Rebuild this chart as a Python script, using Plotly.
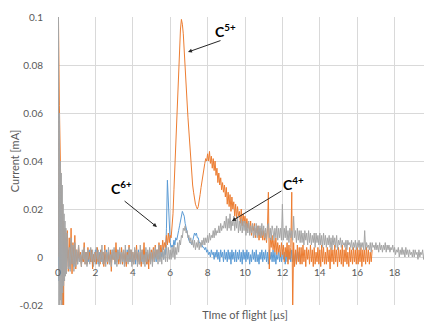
import plotly.graph_objects as go

# Sample times (µs): fine sampling near t=0, then 0.05 µs steps
t_fine = [0, 0.025, 0.05, 0.075, 0.1, 0.125, 0.15, 0.175, 0.2, 0.225,
          0.25, 0.275, 0.3, 0.325, 0.35, 0.375, 0.4, 0.425, 0.45, 0.475]
t_main = [round(0.5 + 0.05 * k, 2) for k in range(391)]  # 0.5 .. 20.0

# Currents, in µA (0.001 mA); one row per µs
gray_fine_uA = [0, 100, -20, 60, -20, 40, -18, 35, -20, 30, -15, 22, -12, 18, -10, 15, -8, 12, -7, 10]
gray_main_uA = [
    7, -5, 4, -6, 8, -3, 5, -6, 6, -4,
    3, -3, 5, -2, 1, -4, 3, -1, 4, -3, 2, -4, 3, 0, -3, 4, -2, 3, -4, 2,
    -3, 4, -1, 3, -4, 2, -2, 5, -3, 1, 3, -4, 2, -2, 4, -3, 1, -4, 3, -1,
    4, -3, 2, -4, 3, -1, 4, -3, 2, -2, 3, -4, 5, -2, 1, -3, 4, -2, 3, -4,
    2, -3, 4, -1, 3, -4, 2, -3, 5, -2, 3, -3, 1, -4, 4, -2, 3, -1, 4, -3,
    2, -4, 3, -2, 4, -1, 3, -3, 5, -2, 2, -3, 4, -1, 3, -2, 5, -2, 4, -1,
    3, -1, 4, 0, 5, -1, 4, 1, 6, 2, 7, 5, 9, 8, 12, 11, 13, 10, 11, 8,
    9, 6, 8, 5, 7, 4, 7, 3, 6, 4, 7, 3, 6, 4, 7, 5, 8, 5, 8, 6,
    9, 6, 10, 7, 9, 8, 11, 8, 12, 9, 11, 10, 13, 10, 14, 11, 13, 12, 15, 12,
    17, 11, 16, 12, 18, 11, 15, 13, 17, 11, 16, 12, 17, 10, 15, 11, 16, 10, 15, 11,
    15, 9, 14, 10, 15, 9, 13, 10, 14, 8, 13, 9, 14, 8, 13, 9, 13, 8, 14, 9,
    13, 8, 12, 7, 13, 14, 8, 12, 7, 13, 11, 7, 12, 8, 13, 7, 12, 8, 12, 7,
    22, 7, 12, 8, 13, 7, 11, 6, 12, 8, 11, 7, 17, 8, 11, 6, 12, 7, 11, 6,
    11, 6, 10, 5, 11, 7, 10, 5, 11, 6, 10, 5, 9, 6, 10, 4, 10, 6, 9, 5,
    10, 5, 9, 4, 10, 5, 9, 4, 8, 5, 9, 4, 8, 3, 9, 5, 8, 4, 9, 3,
    7, 5, 8, 4, 7, 5, 6, 4, 7, 3, 7, 5, 6, 4, 7, 3, 6, 4, 7, 3,
    6, 4, 7, 3, 6, 4, 6, 3, 11, 3, 6, 4, 5, 3, 6, 2, 6, 4, 5, 3,
    6, 3, 5, 2, 6, 3, 5, 2, 5, 3, 6, 2, 5, 3, 5, 2, 4, 3, 5, 2,
    4, 1, 3, 2, 4, 0, 3, 1, 4, 1, 3, 0, 4, 1, 3, 0, 3, 1, 2, 0,
    3, 0, 3, 1, 2, -1, 3, 0, 2, 1, 3, -1, 2, 0, 3, 0, 2, -1, 2, 0,
    2,
]

orange_fine_uA = [0, 100, 80, 63, 45, 40, 30, 28, 20, 22, -20, 15, -20, 10, 8, 12, -5, 8, -6, 9]
orange_main_uA = [
    11, -6, 8, -4, 12, -7, 6, -3, 9, -5,
    3, -2, 5, -1, 2, -4, 1, -2, 6, -3, 2, -3, 4, -1, 2, -2, 3, -5, 1, -2,
    2, -3, 4, -2, 1, -3, 3, -1, 2, -4, 5, -2, 2, -3, 1, -2, 3, -6, 2, -1,
    3, -2, 6, -1, 2, -3, 1, -2, 4, -3, 2, -1, 3, -4, 2, -2, 5, -1, 3, -2,
    2, -3, 3, -1, 5, -2, 1, -3, 2, -4, 3, -1, 6, -2, 2, -3, 1, -5, 3, -2,
    3, -1, 4, -2, 5, 0, 3, -1, 6, 1, 5, 2, 7, 3, 6, 4, 9, 5, 10, 6,
    9, 8, 13, 18, 28, 38, 50, 62, 73, 83, 90, 95, 99, 97, 93, 87, 80, 72, 65, 58,
    52, 46, 40, 35, 30, 27, 24, 22, 21, 20, 21, 23, 26, 29, 32, 35, 37, 39, 41, 40,
    43, 40, 44, 39, 42, 37, 41, 36, 40, 34, 37, 31, 35, 30, 33, 28, 31, 27, 30, 25,
    29, 22, 27, 21, 26, 19, 25, 20, 23, 17, 22, 16, 21, 17, 19, 14, 20, 13, 18, 14,
    17, 11, 16, 12, 14, 10, 15, 9, 13, 11, 14, 8, 12, 10, 13, 7, 12, 8, 11, 7,
    11, 7, 10, 6, 12, 27, -5, 8, 4, 9, 3, 7, 2, 8, 1, 6, 2, 5, 0, 6,
    1, 5, -2, 4, 0, 6, -3, 5, -1, 4, 27, -24, 6, -4, 3, -3, 5, -2, 4, -3,
    4, -3, 5, -2, 3, -4, 4, -1, 3, -3, 5, -2, 3, -4, 4, -3, 2, -2, 4, -3,
    3, -4, 5, -2, 4, -3, 2, -3, 4, -2, 3, -5, 4, -2, 3, -3, 5, -2, 3, -4,
    4, -2, 3, -3, 5, -4, 3, -2, 4, -3, 2, -4, 4, -2, 3, -3, 4, -2, 3, -3,
    4, -3, 3, -2, 4, -4, 3, -2, 3, -3, 4, -2, 3, -3, 2, -2, 3,
]

blue_fine_uA = [0, 30, -10, 25, -8, 22, -6, 18, -5, 15, -4, 12, -4, 10, -3, 8, -3, 6, -3, 5]
blue_main_uA = [
    5, -4, 3, -5, 6, -3, 4, -4, 3, -2,
    2, -3, 3, -2, 1, -3, 2, -2, 3, -1, 2, -3, 1, -2, 3, -2, 2, -3, 1, -2,
    3, -2, 1, -3, 2, -1, 3, -2, 2, -3, 1, -2, 3, -1, 2, -3, 2, -2, 3, -1,
    2, -3, 1, -2, 3, -2, 2, -1, 3, -3, 2, -2, 1, -3, 3, -1, 2, -2, 3, -2,
    1, -2, 3, -3, 2, -1, 3, -2, 1, -3, 2, -2, 3, -1, 2, -3, 1, -2, 3, -1,
    2, -2, 3, -1, 2, -2, 3, 0, 2, -1, 3, 0, 2, -1, 3, 1, 12, 32, 22, 9,
    6, 4, 5, 4, 7, 5, 8, 7, 10, 11, 13, 15, 17, 19, 18, 17, 14, 12, 10, 8,
    7, 6, 6, 5, 7, 8, 10, 9, 10, 8, 8, 6, 6, 5, 5, 4, 4, 3, 4, 2,
    3, 1, 2, 0, 3, 1, 2, -1, 2, 0, 3, -1, 2, -2, 3, 0, 2, -2, 3, -1,
    2, -2, 3, -1, 2, -3, 3, -1, 2, -2, 3, -2, 2, -1, 3, -2, 2, -3, 3, -1,
    2, -2, 3, -1, 2, -3, 1, -2, 3, -1, 2, -2, 3, -2, 1, -3, 2, -1, 3, -2,
    2, -1, 3, -2, 2, -3, 3, -1, 2, -2, 3, -2, 2, -3, 1, -1, 3, -2, 2, -2,
    3, -1, 2, -3, 2, -2, 3, -1, 2, -2, 3, -2, 1, -2, 2, -3, 3, -1, 2, -2,
    1,
]

x_ticks = [0, 2, 4, 6, 8, 10, 12, 14, 16, 18, 20]
y_ticks = [-0.02, 0, 0.02, 0.04, 0.06, 0.08, 0.1]
y_tick_labels = ["-0.02", "0", "0.02", "0.04", "0.06", "0.08", "0.1"]

UA_TO_MA = 1e-3


def series(t_a, t_b, v_a, v_b):
    vals = v_a + v_b
    t = (t_a + t_b)[:len(vals)]
    return t, [v * UA_TO_MA for v in vals]


bx, by = series(t_fine, t_main, blue_fine_uA, blue_main_uA)
ox, oy = series(t_fine, t_main, orange_fine_uA, orange_main_uA)
gx, gy = series(t_fine, t_main, gray_fine_uA, gray_main_uA)

fig = go.Figure()
fig.add_trace(go.Scatter(x=bx, y=by, mode="lines", name="Blue",
                         line=dict(color="#5B9BD5", width=1)))
fig.add_trace(go.Scatter(x=ox, y=oy, mode="lines", name="Orange",
                         line=dict(color="#ED7D31", width=1)))
fig.add_trace(go.Scatter(x=gx, y=gy, mode="lines", name="Gray",
                         line=dict(color="#A5A5A5", width=1)))

tick_font = dict(family="Lato, Arial, sans-serif", size=10, color="#595959")
title_font = dict(family="Lato, Arial, sans-serif", size=11, color="#595959")

fig.update_layout(
    width=432, height=321,
    margin=dict(l=50, r=8, t=9, b=24, pad=0),
    paper_bgcolor="white", plot_bgcolor="white",
    showlegend=False,
    font=tick_font,
    xaxis=dict(
        range=[0, 20], tickvals=x_ticks, ticktext=[str(v) for v in x_ticks],
        anchor="free", position=1 / 6, automargin=False,
        showgrid=True, gridcolor="#D9D9D9", gridwidth=1,
        zeroline=False, showline=False,
        ticks="outside", ticklen=6, tickcolor="rgba(0,0,0,0)",
        tickfont=tick_font,
        title=dict(text="TIme of flight [µs]", standoff=34, font=title_font),
    ),
    yaxis=dict(
        range=[-0.02, 0.1], tickvals=y_ticks, ticktext=y_tick_labels,
        automargin=False,
        showgrid=True, gridcolor="#D9D9D9", gridwidth=1,
        zeroline=False, showline=False,
        ticks="outside", ticklen=12, tickcolor="rgba(0,0,0,0)",
        tickfont=tick_font,
        title=dict(text="Current [mA]", standoff=0, font=title_font),
    ),
)

ann_font = dict(family="Lato, Arial, sans-serif", size=14, color="#000000")
labels = [
    ("<b>C<sup>5+</sup></b>", 8.98, 0.0942),
    ("<b>C<sup>6+</sup></b>", 3.37, 0.0288),
    ("<b>C<sup>4+</sup></b>", 12.57, 0.0308),
]
for txt, lx, ly in labels:
    fig.add_annotation(x=lx, y=ly, xref="x", yref="y", text=txt, showarrow=False,
                       font=ann_font)

arrows = [
    (6.95, 0.0854, 8.77, 0.0904),
    (5.29, 0.0125, 3.48, 0.0238),
    (9.30, 0.0150, 12.03, 0.0279),
]
for x1, y1, x0, y0 in arrows:
    fig.add_annotation(x=x1, y=y1, ax=x0, ay=y0, xref="x", yref="y",
                       axref="x", ayref="y", text="", showarrow=True,
                       arrowhead=2, arrowsize=0.8, arrowwidth=1, arrowcolor="#262626")

fig.write_html("out.html")
